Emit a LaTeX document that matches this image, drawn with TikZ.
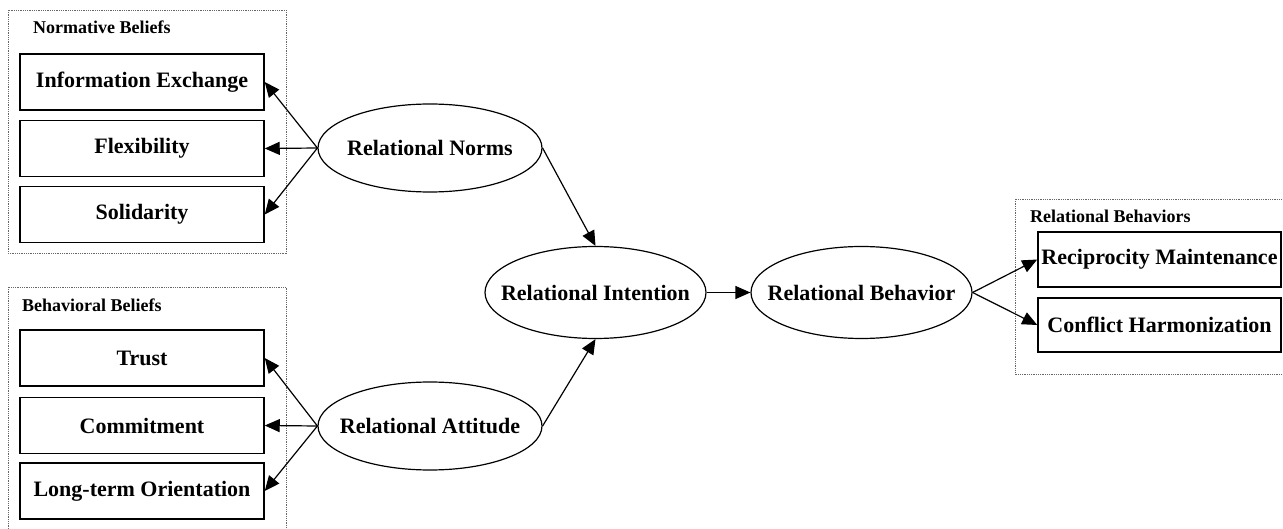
\documentclass[tikz,border=0pt]{standalone}
\usepackage{fontspec}
\setmainfont{Liberation Serif}
\usetikzlibrary{arrows.meta,shapes.geometric}
\begin{document}
\begin{tikzpicture}[x=1pt,y=-1pt,
  grp/.style={draw=black!60, line width=0.9pt, dash pattern=on 0.9pt off 0.9pt},
  itembox/.style={draw, line width=1.5pt, rectangle, minimum width=244pt,
    minimum height=56pt, inner sep=0pt, font=\fontsize{22}{26}\selectfont\bfseries},
  construct/.style={draw, line width=1.2pt, ellipse, minimum width=224pt,
    minimum height=88pt, inner xsep=-40pt, inner ysep=0pt,
    font=\fontsize{22}{26}\selectfont\bfseries},
  grplabel/.style={anchor=base west, inner sep=0pt, font=\fontsize{18}{21}\selectfont\bfseries},
  link/.style={line width=1.2pt, -{Triangle[length=15pt,width=13pt]}}]

\useasboundingbox (0,0) rectangle (1283,529);

% dotted group frames
\begin{scope}
  \clip (0,0) rectangle (1283,529);
  \draw[grp] (8,10) rectangle (286,253);
  \draw[grp] (8,287) rectangle (286,560);
  \draw[grp] (1015,199) rectangle (1300,374);
\end{scope}

\node[grplabel] (lnorm) at (33,34) {Normative Beliefs};
\node[grplabel] (lbeh) at (22,312) {Behavioral Beliefs};
\node[grplabel] (lrel) at (1030,222.5) {Relational Behaviors};

% indicator boxes
\node[itembox] (info)   at (142,82)    {Information Exchange};
\node[itembox] (flex)   at (142,148.5) {Flexibility};
\node[itembox] (solid)  at (142,214.5) {Solidarity};
\node[itembox] (trust)  at (142,358)   {Trust};
\node[itembox] (commit) at (142,425.5) {Commitment};
\node[itembox] (orient) at (142,491)   {Long-term Orientation};
\node[itembox, minimum width=243pt, minimum height=55pt] (recip) at (1159.5,259.5) {Reciprocity Maintenance};
\node[itembox, minimum width=243pt, minimum height=54pt] (confl) at (1159.5,325) {Conflict Harmonization};

% constructs
\node[construct] (norms)    at (430,148)   {Relational Norms};
\node[construct] (attitude) at (430,426)   {Relational Attitude};
\node[construct, minimum width=221pt, minimum height=92pt] (intent) at (595.5,292.5) {Relational Intention};
\node[construct, minimum width=221pt, minimum height=92pt] (behav)  at (861.5,292.5) {Relational Behavior};

% paths
\draw[link] (norms.west) -- (info.east);
\draw[link] (norms.west) -- (flex.east);
\draw[link] (norms.west) -- (solid.east);
\draw[link] (attitude.west) -- (trust.east);
\draw[link] (attitude.west) -- (commit.east);
\draw[link] (attitude.west) -- (orient.east);
\draw[link] (norms.east) -- (intent.north);
\draw[link] (attitude.east) -- (intent.south);
\draw[link] (intent.east) -- (behav.west);
\draw[link] (behav.east) -- (recip.west);
\draw[link] (behav.east) -- (confl.west);
\end{tikzpicture}
\end{document}
